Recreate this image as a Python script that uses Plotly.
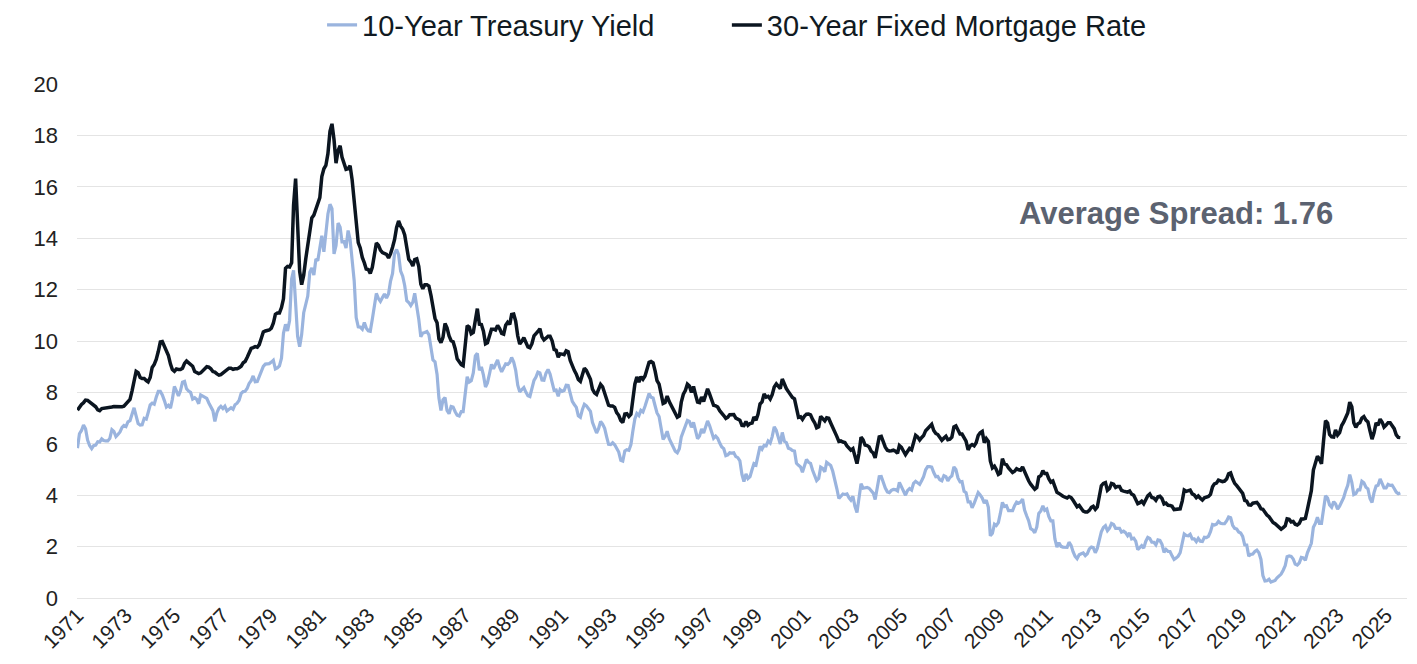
import pandas as pd
import plotly.graph_objs as go

# monthly values, first month = April 1971
treasury_10y = [
    5.83, 6.39, 6.52, 6.73, 6.58, 6.14, 5.93, 5.81, 5.93,
    5.95, 6.08, 6.07, 6.19, 6.13, 6.11, 6.11, 6.21, 6.55, 6.48, 6.28, 6.36,
    6.46, 6.64, 6.71, 6.67, 6.85, 6.90, 7.13, 7.40, 7.09, 6.79, 6.73, 6.74,
    6.99, 6.96, 7.21, 7.51, 7.58, 7.54, 7.81, 8.04, 8.04, 7.90, 7.68, 7.43,
    7.50, 7.39, 7.73, 8.23, 8.06, 7.86, 8.06, 8.40, 8.43, 8.14, 8.05, 8.00,
    7.74, 7.79, 7.73, 7.56, 7.90, 7.86, 7.83, 7.77, 7.59, 7.41, 7.29, 6.87,
    7.21, 7.39, 7.46, 7.37, 7.46, 7.28, 7.33, 7.40, 7.34, 7.52, 7.58, 7.69,
    7.96, 8.03, 8.04, 8.15, 8.35, 8.46, 8.64, 8.41, 8.42, 8.64, 8.81, 9.01,
    9.10, 9.10, 9.12, 9.18, 9.25, 8.91, 8.95, 9.03, 9.33, 10.30, 10.65, 10.39,
    10.80, 12.41, 12.75, 11.47, 10.18, 9.78, 10.25, 11.10, 11.51, 11.75, 12.68, 12.84,
    12.57, 13.19, 13.12, 13.68, 14.10, 13.47, 14.28, 14.94, 15.32, 15.15, 13.39, 13.72,
    14.59, 14.43, 13.86, 13.87, 13.62, 14.30, 13.95, 13.06, 12.34, 10.91, 10.55, 10.54,
    10.46, 10.72, 10.51, 10.40, 10.38, 10.85, 11.38, 11.85, 11.65, 11.54, 11.69, 11.83,
    11.67, 11.84, 12.32, 12.63, 13.41, 13.56, 13.36, 12.72, 12.52, 12.16, 11.57, 11.50,
    11.38, 11.51, 11.86, 11.43, 10.85, 10.16, 10.31, 10.33, 10.37, 10.24, 9.78, 9.26,
    9.19, 8.70, 7.78, 7.30, 7.71, 7.80, 7.30, 7.17, 7.45, 7.43, 7.25, 7.11,
    7.08, 7.25, 7.25, 8.02, 8.61, 8.40, 8.45, 8.76, 9.42, 9.52, 8.86, 8.99,
    8.67, 8.21, 8.37, 8.72, 9.09, 8.92, 9.06, 9.26, 8.98, 8.80, 8.96, 9.11,
    9.09, 9.17, 9.36, 9.18, 8.86, 8.28, 8.02, 8.11, 8.19, 8.01, 7.87, 7.84,
    8.21, 8.47, 8.59, 8.79, 8.76, 8.48, 8.47, 8.75, 8.89, 8.72, 8.39, 8.08,
    8.09, 7.85, 8.11, 8.04, 8.07, 8.28, 8.27, 7.90, 7.65, 7.53, 7.42, 7.09,
    7.03, 7.34, 7.54, 7.48, 7.39, 7.26, 6.84, 6.59, 6.42, 6.59, 6.87, 6.77,
    6.60, 6.26, 5.98, 5.97, 6.04, 5.96, 5.81, 5.68, 5.36, 5.33, 5.72, 5.77,
    5.75, 5.97, 6.48, 6.97, 7.18, 7.10, 7.30, 7.24, 7.46, 7.74, 7.96, 7.81,
    7.78, 7.47, 7.20, 7.06, 6.63, 6.17, 6.28, 6.49, 6.20, 6.04, 5.93, 5.71,
    5.65, 5.81, 6.27, 6.51, 6.74, 6.91, 6.87, 6.64, 6.83, 6.53, 6.20, 6.30,
    6.58, 6.42, 6.69, 6.89, 6.71, 6.49, 6.22, 6.30, 6.21, 6.03, 5.88, 5.81,
    5.54, 5.57, 5.65, 5.64, 5.65, 5.50, 5.46, 5.34, 4.81, 4.53, 4.83, 4.65,
    4.72, 5.00, 5.23, 5.18, 5.54, 5.90, 5.79, 5.94, 5.92, 6.11, 6.03, 6.28,
    6.66, 6.52, 6.26, 5.99, 6.44, 6.10, 6.05, 5.83, 5.80, 5.74, 5.72, 5.24,
    5.16, 5.10, 4.89, 5.14, 5.39, 5.28, 5.24, 4.97, 4.73, 4.57, 4.65, 5.09,
    5.04, 4.91, 5.28, 5.21, 5.16, 4.93, 4.65, 4.26, 3.87, 3.94, 4.05, 4.03,
    4.05, 3.90, 3.81, 3.96, 3.57, 3.33, 3.98, 4.45, 4.27, 4.29, 4.30, 4.27,
    4.15, 4.08, 3.83, 4.35, 4.72, 4.73, 4.50, 4.28, 4.13, 4.10, 4.19, 4.23,
    4.22, 4.17, 4.50, 4.34, 4.14, 4.00, 4.18, 4.26, 4.20, 4.46, 4.54, 4.47,
    4.42, 4.57, 4.72, 4.99, 5.11, 5.11, 5.09, 4.88, 4.72, 4.73, 4.60, 4.56,
    4.76, 4.72, 4.56, 4.69, 4.75, 5.10, 5.00, 4.67, 4.52, 4.53, 4.15, 4.10,
    3.74, 3.74, 3.51, 3.68, 3.88, 4.10, 4.01, 3.89, 3.69, 3.81, 3.53, 2.42,
    2.52, 2.87, 2.82, 2.93, 3.29, 3.72, 3.56, 3.59, 3.40, 3.39, 3.40, 3.59,
    3.73, 3.69, 3.73, 3.85, 3.42, 3.20, 3.01, 2.70, 2.65, 2.54, 2.76, 3.29,
    3.39, 3.58, 3.41, 3.46, 3.17, 3.00, 3.00, 2.30, 1.98, 2.15, 2.01, 1.98,
    1.97, 1.97, 2.17, 2.05, 1.80, 1.62, 1.53, 1.68, 1.72, 1.75, 1.65, 1.72,
    1.91, 1.98, 1.96, 1.76, 1.93, 2.30, 2.58, 2.74, 2.81, 2.62, 2.72, 2.90,
    2.86, 2.71, 2.72, 2.71, 2.56, 2.60, 2.54, 2.42, 2.53, 2.30, 2.33, 2.21,
    1.88, 1.98, 2.04, 1.94, 2.20, 2.36, 2.32, 2.17, 2.17, 2.07, 2.26, 2.24,
    2.09, 1.78, 1.89, 1.81, 1.81, 1.64, 1.50, 1.56, 1.63, 1.76, 2.14, 2.49,
    2.43, 2.42, 2.48, 2.30, 2.30, 2.19, 2.32, 2.21, 2.20, 2.36, 2.35, 2.40,
    2.58, 2.86, 2.84, 2.87, 2.98, 2.91, 2.89, 2.89, 3.00, 3.15, 3.12, 2.83,
    2.71, 2.68, 2.57, 2.53, 2.40, 2.07, 2.06, 1.63, 1.70, 1.71, 1.81, 1.86,
    1.76, 1.50, 0.87, 0.66, 0.67, 0.73, 0.62, 0.65, 0.68, 0.79, 0.87, 0.93,
    1.08, 1.26, 1.61, 1.64, 1.62, 1.52, 1.32, 1.28, 1.37, 1.58, 1.56, 1.47,
    1.76, 1.93, 2.13, 2.75, 2.90, 3.14, 2.90, 2.90, 3.52, 3.98, 3.89, 3.62,
    3.53, 3.75, 3.66, 3.46, 3.57, 3.75, 3.90, 4.17, 4.38, 4.80, 4.50, 4.02,
    4.06, 4.21, 4.21, 4.54, 4.48, 4.31, 4.25, 3.87, 3.72, 4.10, 4.36, 4.39,
    4.63, 4.45, 4.28, 4.28, 4.42, 4.38, 4.39, 4.26, 4.12, 4.06, 4.09,
]

mortgage_30y = [
    7.31, 7.43, 7.53, 7.60, 7.70, 7.69, 7.63, 7.55, 7.48,
    7.44, 7.32, 7.29, 7.37, 7.38, 7.37, 7.40, 7.40, 7.43, 7.45, 7.44, 7.44,
    7.44, 7.44, 7.46, 7.54, 7.65, 7.73, 8.05, 8.50, 8.82, 8.77, 8.58, 8.54,
    8.54, 8.46, 8.41, 8.58, 8.97, 9.09, 9.28, 9.59, 9.96, 9.98, 9.79, 9.62,
    9.43, 9.10, 8.89, 8.82, 8.91, 8.89, 8.89, 8.94, 9.13, 9.22, 9.15, 9.10,
    9.02, 8.81, 8.76, 8.73, 8.76, 8.85, 8.93, 9.00, 8.98, 8.92, 8.81, 8.79,
    8.72, 8.67, 8.69, 8.75, 8.83, 8.86, 8.94, 8.94, 8.90, 8.92, 8.92, 8.96,
    9.02, 9.15, 9.20, 9.36, 9.57, 9.71, 9.74, 9.78, 9.76, 9.86, 10.11, 10.35,
    10.39, 10.41, 10.43, 10.50, 10.69, 11.04, 11.09, 11.09, 11.30, 11.64, 12.83, 12.90,
    12.88, 13.04, 15.28, 16.32, 14.26, 12.71, 12.19, 12.56, 13.20, 13.79, 14.21, 14.79,
    14.90, 15.13, 15.40, 15.58, 16.40, 16.70, 16.83, 17.29, 18.16, 18.45, 17.83, 16.92,
    17.40, 17.60, 17.16, 16.89, 16.68, 16.70, 16.82, 16.27, 15.43, 14.61, 13.83, 13.62,
    13.25, 13.04, 12.80, 12.78, 12.63, 12.87, 13.42, 13.81, 13.73, 13.54, 13.44, 13.42,
    13.37, 13.23, 13.39, 13.65, 13.94, 14.42, 14.67, 14.47, 14.35, 14.13, 13.64, 13.18,
    13.08, 12.92, 13.17, 13.20, 12.91, 12.22, 12.03, 12.19, 12.19, 12.14, 11.78, 11.26,
    10.88, 10.71, 10.08, 9.94, 10.14, 10.68, 10.51, 10.20, 10.01, 9.97, 9.70, 9.31,
    9.20, 9.08, 9.04, 9.83, 10.60, 10.54, 10.28, 10.33, 10.89, 11.26, 10.65, 10.64,
    10.38, 9.89, 9.93, 10.20, 10.46, 10.46, 10.43, 10.60, 10.48, 10.30, 10.27, 10.61,
    10.73, 10.65, 11.03, 11.05, 10.77, 10.20, 9.88, 9.99, 10.13, 9.95, 9.77, 9.74,
    9.90, 10.20, 10.27, 10.37, 10.48, 10.16, 10.04, 10.10, 10.18, 10.18, 10.01, 9.67,
    9.64, 9.37, 9.50, 9.49, 9.47, 9.62, 9.58, 9.24, 9.01, 8.86, 8.71, 8.50,
    8.43, 8.76, 8.94, 8.85, 8.67, 8.51, 8.13, 7.98, 7.92, 8.09, 8.31, 8.22,
    7.99, 7.68, 7.50, 7.47, 7.47, 7.42, 7.21, 7.11, 6.91, 6.83, 7.16, 7.17,
    7.06, 7.15, 7.68, 8.32, 8.60, 8.40, 8.61, 8.51, 8.64, 8.93, 9.17, 9.20,
    9.15, 8.83, 8.46, 8.32, 7.96, 7.57, 7.61, 7.86, 7.64, 7.48, 7.38, 7.20,
    7.03, 7.08, 7.62, 7.93, 8.07, 8.32, 8.25, 8.00, 8.23, 7.92, 7.62, 7.60,
    7.82, 7.65, 7.90, 8.14, 7.94, 7.69, 7.50, 7.48, 7.43, 7.29, 7.21, 7.10,
    6.99, 7.04, 7.13, 7.14, 7.14, 7.00, 6.95, 6.92, 6.72, 6.71, 6.87, 6.72,
    6.79, 6.81, 7.04, 6.92, 7.15, 7.55, 7.63, 7.94, 7.82, 7.85, 7.74, 7.91,
    8.21, 8.33, 8.24, 8.15, 8.52, 8.29, 8.15, 8.03, 7.91, 7.80, 7.75, 7.38,
    7.03, 7.05, 6.95, 7.08, 7.15, 7.16, 7.13, 6.95, 6.82, 6.62, 6.66, 7.07,
    7.00, 6.89, 7.01, 6.99, 6.81, 6.65, 6.49, 6.29, 6.09, 6.11, 6.07, 6.05,
    5.92, 5.84, 5.75, 5.81, 5.48, 5.23, 5.63, 6.26, 6.15, 5.95, 5.93, 5.88,
    5.71, 5.64, 5.45, 5.83, 6.27, 6.29, 6.06, 5.87, 5.75, 5.72, 5.73, 5.75,
    5.71, 5.63, 5.93, 5.86, 5.72, 5.58, 5.70, 5.82, 5.77, 6.07, 6.33, 6.27,
    6.15, 6.25, 6.32, 6.51, 6.60, 6.68, 6.76, 6.52, 6.40, 6.36, 6.24, 6.14,
    6.22, 6.29, 6.16, 6.18, 6.26, 6.66, 6.70, 6.57, 6.38, 6.38, 6.21, 6.10,
    5.76, 5.92, 5.97, 5.92, 6.04, 6.32, 6.43, 6.48, 6.04, 6.20, 6.09, 5.33,
    5.06, 5.13, 5.00, 4.81, 4.86, 5.42, 5.22, 5.19, 5.06, 4.95, 4.88, 4.93,
    5.03, 4.99, 4.97, 5.10, 4.89, 4.74, 4.56, 4.43, 4.35, 4.23, 4.30, 4.71,
    4.76, 4.95, 4.84, 4.84, 4.64, 4.51, 4.55, 4.27, 4.11, 4.07, 3.99, 3.96,
    3.92, 3.89, 3.95, 3.91, 3.80, 3.68, 3.55, 3.60, 3.50, 3.38, 3.35, 3.35,
    3.41, 3.53, 3.57, 3.45, 3.54, 4.07, 4.37, 4.46, 4.49, 4.19, 4.26, 4.46,
    4.43, 4.30, 4.34, 4.34, 4.19, 4.16, 4.13, 4.12, 4.16, 4.04, 4.00, 3.86,
    3.67, 3.71, 3.77, 3.67, 3.84, 3.98, 4.05, 3.91, 3.89, 3.80, 3.94, 3.96,
    3.87, 3.66, 3.69, 3.61, 3.60, 3.57, 3.44, 3.44, 3.46, 3.47, 3.77, 4.20,
    4.15, 4.17, 4.20, 4.05, 4.01, 3.90, 3.97, 3.88, 3.81, 3.90, 3.92, 3.95,
    4.03, 4.33, 4.44, 4.47, 4.59, 4.57, 4.53, 4.55, 4.63, 4.83, 4.87, 4.64,
    4.46, 4.37, 4.27, 4.14, 4.07, 3.80, 3.77, 3.62, 3.61, 3.69, 3.70, 3.72,
    3.62, 3.47, 3.45, 3.31, 3.23, 3.16, 3.02, 2.94, 2.89, 2.83, 2.77, 2.68,
    2.74, 2.81, 3.08, 3.06, 2.96, 2.98, 2.87, 2.84, 2.90, 3.07, 3.07, 3.10,
    3.45, 3.76, 4.17, 4.98, 5.23, 5.52, 5.41, 5.22, 6.11, 6.90, 6.81, 6.36,
    6.27, 6.26, 6.54, 6.34, 6.43, 6.71, 6.84, 7.07, 7.20, 7.62, 7.44, 6.82,
    6.64, 6.78, 6.82, 7.00, 7.06, 6.92, 6.85, 6.50, 6.18, 6.43, 6.81, 6.72,
    6.96, 6.84, 6.65, 6.73, 6.82, 6.82, 6.72, 6.59, 6.35, 6.25, 6.24,
]

tick_years = list(range(1971, 2026, 2))
avg_spread = "Average Spread: 1.76"

dates = pd.date_range("1971-04-01", periods=len(mortgage_30y), freq="MS")
tick_vals = [f"{y}-04-01" for y in tick_years]
tick_text = [str(y) for y in tick_years]

fig = go.Figure()
fig.add_trace(go.Scatter(x=dates, y=treasury_10y, mode='lines', name='10-Year Treasury Yield',
                         line=dict(color='#9ab4de', width=3.2), legend='legend'))
fig.add_trace(go.Scatter(x=dates, y=mortgage_30y, mode='lines', name='30-Year Fixed Mortgage Rate',
                         line=dict(color='#0b1520', width=3.5), legend='legend2'))

fig.add_annotation(text=f"<b>{avg_spread}</b>", xref='paper', yref='paper', x=0.826, y=0.749,
                   xanchor='center', yanchor='middle', showarrow=False,
                   font=dict(size=31, color='#5b6270', family='Liberation Sans, Arial'))

# page body adds an 8px offset, so the figure is sized 8px smaller
legend_style = dict(orientation='h', xanchor='left', xref='container', yref='container',
                    y=0.974, yanchor='middle', font=dict(size=29, color='#111a22'),
                    itemwidth=30, bgcolor='rgba(0,0,0,0)')
fig.update_layout(
    width=1409, height=656,
    margin=dict(l=69, r=10, t=76, b=66, autoexpand=False),
    paper_bgcolor='white', plot_bgcolor='white',
    font=dict(family='Liberation Sans, Arial, sans-serif', color='#222222'),
    showlegend=True,
    legend=dict(x=0.2229, **legend_style),
    legend2=dict(x=0.5102, **legend_style),
)
fig.update_xaxes(range=['1971-03-25', '2026-02-10'], tickvals=tick_vals, ticktext=tick_text,
                 tickangle=-45, tickfont=dict(size=21, color='#222222'), showgrid=False,
                 showline=False, zeroline=False, ticks='', automargin=False)
fig.update_yaxes(range=[0, 20], dtick=2, showgrid=True, gridcolor='#e4e4e4', gridwidth=1,
                 zeroline=True, zerolinecolor='#e4e4e4', zerolinewidth=1, showline=False,
                 tickfont=dict(size=22, color='#222222'), ticklabelstandoff=18, automargin=False)

fig.write_html("out.html")
